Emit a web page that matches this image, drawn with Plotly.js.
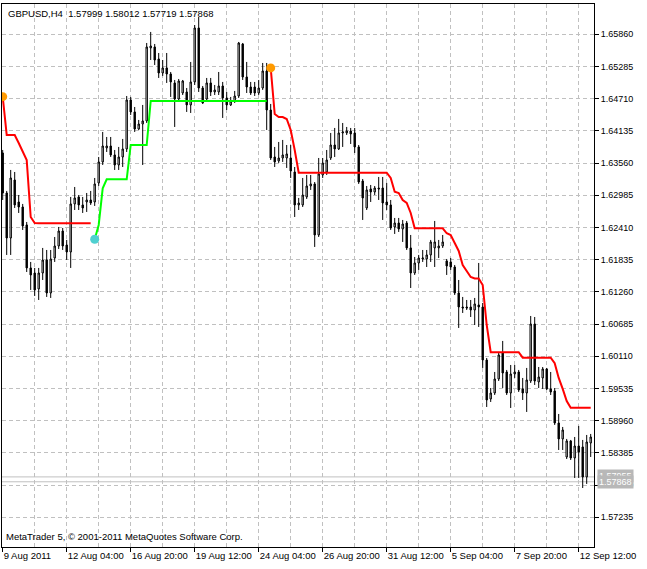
<!DOCTYPE html>
<html>
<head>
<meta charset="utf-8">
<script src="https://cdn.plot.ly/plotly-3.0.1.min.js"></script>
<style>html,body{margin:0;padding:0;background:#fff;}#chart{width:647px;height:569px;}</style>
</head>
<body>
<div id="chart"></div>
<script>
const symbolTitle = "GBPUSD,H4  1.57999 1.58012 1.57719 1.57868";
const copyrightText = "MetaTrader 5, \u00a9 2001-2011 MetaQuotes Software Corp.";

const opens = [
1.63740,1.63026,1.62222,1.63258,1.62865,1.62776,1.62455,1.61687,1.61597,1.61312,
1.61597,1.61829,1.61240,1.61865,1.62079,1.62347,1.62097,1.61972,1.62830,1.62955,
1.62812,1.62865,1.62901,1.62865,1.63205,1.63580,1.63830,1.63865,1.63705,1.63526,
1.63669,1.63812,1.64687,1.64473,1.64169,1.64258,1.64312,1.65616,1.65634,1.65419,
1.65169,1.65259,1.65151,1.64991,1.64705,1.64812,1.64830,1.64598,1.65009,1.65973,
1.64901,1.64705,1.64991,1.64830,1.64830,1.64937,1.64723,1.64598,1.64669,1.64758,
1.65687,1.65098,1.64919,1.64919,1.64812,1.64901,1.65205,1.64508,1.63669,1.63598,
1.63651,1.63651,1.63651,1.63401,1.62812,1.62812,1.62955,1.63151,1.63187,1.62276,
1.63348,1.63401,1.63651,1.63883,1.63812,1.64098,1.64098,1.64133,1.64098,1.63848,
1.63240,1.62758,1.63098,1.63044,1.63115,1.63115,1.62865,1.62812,1.62419,1.62490,
1.62383,1.62490,1.62044,1.61597,1.61776,1.61847,1.61847,1.61919,1.62044,1.62044,
1.62079,1.61812,1.61794,1.61704,1.61240,1.60990,1.60990,1.60990,1.60936,1.61026,
1.60990,1.60043,1.59347,1.59454,1.59704,1.60168,1.59829,1.59454,1.59793,1.59829,
1.59526,1.59454,1.59668,1.60686,1.59651,1.59722,1.59883,1.59526,1.59490,1.58918,
1.58633,1.58311,1.58597,1.58293,1.58507,1.58490,1.57954,1.58561
];
const highs = [
1.63794,1.63062,1.63437,1.63401,1.62990,1.62830,1.62508,1.61794,1.61687,1.61687,
1.62044,1.62008,1.62008,1.62240,1.62419,1.62401,1.62187,1.62955,1.63133,1.62990,
1.62955,1.63026,1.63062,1.63294,1.63669,1.64116,1.64026,1.64026,1.63794,1.63848,
1.63991,1.64758,1.64741,1.64562,1.64330,1.64598,1.65705,1.65902,1.65687,1.65526,
1.65401,1.65526,1.65187,1.65044,1.65062,1.65044,1.64901,1.65366,1.66026,1.66169,
1.64937,1.65080,1.65080,1.64955,1.65187,1.65009,1.64830,1.64741,1.64848,1.65723,
1.65705,1.65366,1.65009,1.65009,1.65044,1.65348,1.65348,1.64616,1.63848,1.63937,
1.63973,1.63883,1.63883,1.63490,1.62937,1.63294,1.63348,1.63348,1.63222,1.63651,
1.63651,1.63794,1.64098,1.64187,1.64348,1.64276,1.64205,1.64187,1.64187,1.63883,
1.63276,1.63151,1.63169,1.63151,1.63312,1.63312,1.63205,1.62901,1.62580,1.62580,
1.62544,1.62526,1.62276,1.61883,1.61919,1.62008,1.62008,1.62187,1.62526,1.62187,
1.62276,1.61847,1.61865,1.61740,1.61472,1.61169,1.61115,1.61115,1.61151,1.61776,
1.61061,1.60079,1.59543,1.59829,1.60186,1.60383,1.59865,1.59954,1.59954,1.59865,
1.59722,1.59901,1.60829,1.60811,1.59918,1.59918,1.59901,1.59829,1.59543,1.59079,
1.58847,1.58633,1.58615,1.58668,1.58865,1.58615,1.58704,1.58722
];
const lows = [
1.62901,1.61919,1.61919,1.62758,1.62669,1.62365,1.61615,1.61294,1.61186,1.61115,
1.61472,1.61169,1.61151,1.61794,1.62026,1.62008,1.61829,1.61687,1.62722,1.62722,
1.62669,1.62687,1.62812,1.62794,1.63151,1.63526,1.63758,1.63669,1.63437,1.63437,
1.63490,1.63758,1.64419,1.64116,1.64151,1.63526,1.64276,1.65401,1.65312,1.65080,
1.65116,1.64991,1.64741,1.64205,1.64687,1.64776,1.64473,1.64455,1.64955,1.64830,
1.64616,1.64669,1.64758,1.64776,1.64776,1.64366,1.64508,1.64580,1.64633,1.64723,
1.65044,1.64812,1.64776,1.64758,1.64776,1.64866,1.64151,1.63615,1.63490,1.63562,
1.63580,1.63473,1.63294,1.62597,1.62722,1.62776,1.62919,1.63080,1.62062,1.62240,
1.63294,1.63348,1.63615,1.63669,1.63794,1.63848,1.64062,1.63901,1.63740,1.63187,
1.62544,1.62722,1.62865,1.62990,1.62901,1.62544,1.62722,1.62365,1.62294,1.62330,
1.62151,1.62008,1.61329,1.61562,1.61651,1.61794,1.61704,1.61794,1.61704,1.61865,
1.62044,1.61562,1.61651,1.61204,1.60615,1.60883,1.60936,1.60811,1.60668,1.60633,
1.59901,1.59204,1.59293,1.59418,1.59668,1.59543,1.59418,1.59186,1.59722,1.59472,
1.59329,1.59115,1.59633,1.59597,1.59543,1.59526,1.59508,1.59418,1.58883,1.58436,
1.58436,1.58275,1.58257,1.57936,1.57936,1.57757,1.57829,1.58311
];
const closes = [
1.63026,1.62222,1.63294,1.62812,1.62776,1.62437,1.61687,1.61562,1.61294,1.61597,
1.61829,1.61240,1.61847,1.62079,1.62347,1.62079,1.61972,1.62830,1.62937,1.62812,
1.62758,1.62901,1.62847,1.63187,1.63580,1.63865,1.63865,1.63705,1.63526,1.63669,
1.63812,1.64687,1.64473,1.64169,1.64258,1.64312,1.65634,1.65651,1.65401,1.65169,
1.65259,1.65151,1.65009,1.64705,1.65026,1.65026,1.64598,1.65009,1.65973,1.64901,
1.64633,1.64991,1.64830,1.64866,1.64937,1.64723,1.64598,1.64669,1.64758,1.65705,
1.65098,1.64919,1.64812,1.64812,1.64901,1.65205,1.64508,1.63651,1.63580,1.63651,
1.63705,1.63723,1.63419,1.62812,1.62847,1.62990,1.63151,1.63187,1.62276,1.63365,
1.63562,1.63615,1.63883,1.63812,1.64098,1.64116,1.64133,1.64080,1.63848,1.63222,
1.62937,1.63080,1.63044,1.63115,1.63098,1.62847,1.62812,1.62401,1.62490,1.62383,
1.62472,1.62044,1.61597,1.61776,1.61865,1.61865,1.61919,1.62151,1.62151,1.62079,
1.62151,1.61722,1.61704,1.61240,1.60990,1.60972,1.60972,1.60936,1.61044,1.60990,
1.60043,1.59329,1.59454,1.59704,1.60133,1.59811,1.59454,1.59793,1.59829,1.59508,
1.59454,1.59686,1.60686,1.59668,1.59740,1.59883,1.59526,1.59472,1.58918,1.58633,
1.58793,1.58597,1.58293,1.58507,1.58400,1.57954,1.58579,1.58668
];

// trailing stop indicator level per bar
const stopLevel = [
1.64746,1.64062,1.64062,1.64062,1.63919,1.63758,1.63615,1.62597,1.62490,1.62485,
1.62485,1.62485,1.62485,1.62485,1.62485,1.62485,1.62485,1.62485,1.62485,1.62485,
1.62485,1.62485,1.62485,1.62199,1.62455,1.63110,1.63271,1.63271,1.63271,1.63271,
1.63271,1.63271,1.63883,1.63883,1.63883,1.63883,1.63883,1.64669,1.64669,1.64669,
1.64669,1.64669,1.64669,1.64669,1.64669,1.64669,1.64669,1.64669,1.64669,1.64669,
1.64669,1.64669,1.64669,1.64669,1.64669,1.64669,1.64669,1.64669,1.64669,1.64669,
1.64669,1.64669,1.64669,1.64669,1.64669,1.64669,1.64669,1.65259,1.64437,1.64383,
1.64383,1.64347,1.64151,1.63794,1.63389,1.63389,1.63389,1.63389,1.63389,1.63389,
1.63389,1.63389,1.63389,1.63389,1.63389,1.63389,1.63389,1.63389,1.63389,1.63389,
1.63389,1.63389,1.63389,1.63389,1.63389,1.63389,1.63389,1.63294,1.63049,1.63026,
1.62901,1.62847,1.62669,1.62395,1.62395,1.62395,1.62395,1.62395,1.62395,1.62395,
1.62395,1.62306,1.62276,1.62133,1.61990,1.61740,1.61633,1.61526,1.61499,1.61499,
1.61383,1.60668,1.60181,1.60181,1.60181,1.60181,1.60181,1.60181,1.60181,1.60181,
1.60084,1.60084,1.60084,1.60084,1.60084,1.60084,1.60084,1.60084,1.59984,1.59722,
1.59526,1.59311,1.59189,1.59189,1.59189,1.59189,1.59189,1.59189
];
const uptrendFirstBar = 23;
const uptrendLastBar = 66;
const signalBars = [0, 23, 67];
const signalColors = ["#ff9a00", "#4fd0d0", "#ff9a00"];

const xTickBars = [0, 16, 32, 48, 64, 80, 96, 112, 128, 144];
const xTickLabels = ["9 Aug 2011", "12 Aug 04:00", "16 Aug 20:00", "19 Aug 12:00", "24 Aug 04:00",
                     "26 Aug 20:00", "31 Aug 12:00", "5 Sep 04:00", "7 Sep 20:00", "12 Sep 12:00"];
const yTickValues = [1.57235, 1.57810, 1.58385, 1.58960, 1.59535, 1.60110, 1.60685, 1.61260,
                     1.61835, 1.62410, 1.62985, 1.63560, 1.64135, 1.64710, 1.65285, 1.65860];
const bidPrice = 1.57868;
const askPrice = 1.57955;

const bars = opens.map((_, i) => i);
const inUp = i => i >= uptrendFirstBar && i <= uptrendLastBar;
const redY = stopLevel.map((v, i) => inUp(i) ? null : v);
const greenY = stopLevel.map((v, i) => inUp(i) ? v : null);

const FONT = "'Liberation Sans', Arial, sans-serif";
const GRID = "#c0c0c0";

const traces = [
  {
    type: "candlestick", x: bars, open: opens, high: highs, low: lows, close: closes,
    increasing: {line: {color: "#000000", width: 1}, fillcolor: "#ffffff"},
    decreasing: {line: {color: "#000000", width: 1}, fillcolor: "#000000"},
    whiskerwidth: 0, hoverinfo: "skip", showlegend: false
  },
  {type: "scatter", mode: "lines", x: bars, y: redY, line: {color: "#ff0000", width: 2}, hoverinfo: "skip"},
  {type: "scatter", mode: "lines", x: bars, y: greenY, line: {color: "#00ff00", width: 2}, hoverinfo: "skip"},
  {type: "scatter", mode: "markers", x: signalBars, y: signalBars.map(i => stopLevel[i]),
   marker: {color: signalColors, size: 9, line: {width: 0}}, hoverinfo: "skip"}
];

const layout = {
  width: 647, height: 569,
  margin: {l: 2, r: 53, t: 4, b: 22, pad: 0},
  paper_bgcolor: "#ffffff", plot_bgcolor: "#ffffff",
  showlegend: false, hovermode: false, boxgap: 0.5,
  font: {family: FONT, size: 10, color: "#000000"},
  xaxis: {
    range: [-0.175, 147.825], rangeslider: {visible: false}, fixedrange: true,
    showline: true, mirror: true, linecolor: "#000000", linewidth: 1,
    tickmode: "array", tickvals: xTickBars, ticktext: xTickLabels,
    ticks: "outside", ticklen: 4, tickcolor: "#000000", tickwidth: 1,
    ticklabelposition: "outside right", tickangle: 0, automargin: false,
    tickfont: {family: FONT, size: 9.5, color: "#000000"},
    showgrid: true, gridcolor: GRID, gridwidth: 1, griddash: "4px,3px",
    minor: {tickmode: "linear", tick0: 0, dtick: 8, showgrid: true, gridcolor: GRID, gridwidth: 1, griddash: "4px,3px", ticks: ""},
    zeroline: false
  },
  yaxis: {
    side: "right", range: [1.56703, 1.66401], fixedrange: true, automargin: false,
    showline: true, mirror: true, linecolor: "#000000", linewidth: 1,
    tickmode: "array", tickvals: yTickValues, tickformat: ".5f",
    ticks: "outside", ticklen: 4, tickcolor: "#000000", tickwidth: 1,
    tickfont: {family: FONT, size: 9, color: "#000000"},
    showgrid: true, gridcolor: GRID, gridwidth: 1, griddash: "4px,3px",
    zeroline: false
  },
  shapes: [
    {type: "line", xref: "paper", x0: 0, x1: 1, yref: "y", y0: askPrice, y1: askPrice, line: {color: "#c0c0c0", width: 1}, layer: "below"},
    {type: "line", xref: "paper", x0: 0, x1: 1, yref: "y", y0: bidPrice, y1: bidPrice, line: {color: "#c0c0c0", width: 1}, layer: "below"}
  ],
  annotations: [
    {text: symbolTitle, xref: "paper", yref: "paper", x: 0, y: 1, xanchor: "left", yanchor: "top",
     xshift: 4, yshift: -2, showarrow: false, font: {family: FONT, size: 9.5, color: "#000000"}},
    {text: copyrightText, xref: "paper", yref: "paper", x: 0, y: 0, xanchor: "left", yanchor: "bottom",
     xshift: 2, yshift: 3, showarrow: false, font: {family: FONT, size: 9.5, color: "#000000"}},
    {text: askPrice.toFixed(5), xref: "paper", yref: "y", x: 1, y: askPrice, xanchor: "left", yanchor: "middle",
     xshift: 3, yshift: 1, showarrow: false, bgcolor: "#b8b8b8", borderpad: 1, font: {family: FONT, size: 9, color: "#ffffff"}},
    {text: bidPrice.toFixed(5), xref: "paper", yref: "y", x: 1, y: bidPrice, xanchor: "left", yanchor: "middle",
     xshift: 3, showarrow: false, bgcolor: "#b8b8b8", borderpad: 1, font: {family: FONT, size: 9, color: "#ffffff"}}
  ]
};

Plotly.newPlot("chart", traces, layout, {staticPlot: true, displayModeBar: false});
</script>
</body>
</html>
